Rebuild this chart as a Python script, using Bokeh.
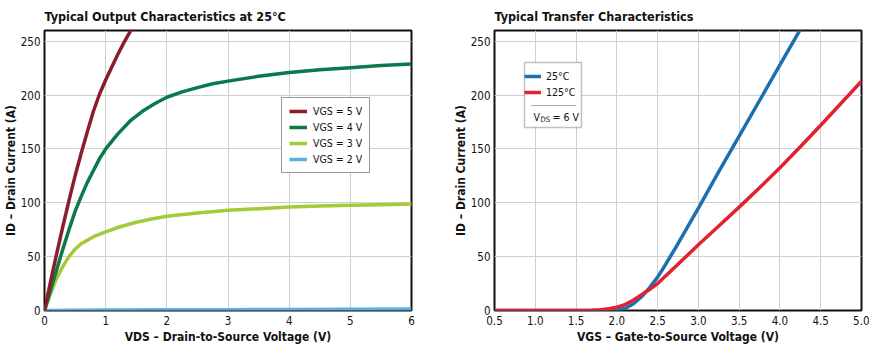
from bokeh.plotting import figure
from bokeh.layouts import row
from bokeh.models import (Legend, LegendItem, Label, BoxAnnotation, FixedTicker,
                          Range1d, PrintfTickFormatter)
from bokeh.embed import file_html
from bokeh.resources import INLINE

FONT = "Liberation Sans Narrow, DejaVu Sans Condensed, sans-serif"

# ---------------- data: output characteristics (ID vs VDS) ----------------
vgs5_x = [0, 0.1, 0.2, 0.3, 0.4, 0.5, 0.6, 0.7, 0.8, 0.9, 1.0, 1.1, 1.2, 1.3, 1.4, 1.5]
vgs5_y = [0, 27, 53, 78, 102, 125, 146, 166, 185, 201, 214, 226, 238, 249, 259, 268]
vgs4_x = [0, 0.1, 0.2, 0.3, 0.4, 0.5, 0.6, 0.7, 0.8, 0.9, 1.0, 1.2, 1.4, 1.6, 1.8, 2.0,
          2.25, 2.5, 2.75, 3.0, 3.5, 4.0, 4.5, 5.0, 5.5, 6.0]
vgs4_y = [0, 19, 38, 57, 75, 92, 106, 119, 130, 141, 150, 164, 176, 185, 192, 198,
          203, 207, 210.5, 213, 217.5, 221, 223.5, 225.5, 227.5, 229]
vgs3_x = [0, 0.1, 0.2, 0.3, 0.4, 0.5, 0.6, 0.8, 1.0, 1.25, 1.5, 1.75, 2.0, 2.5, 3.0,
          3.5, 4.0, 4.5, 5.0, 5.5, 6.0]
vgs3_y = [0, 16, 30, 41, 50, 57, 62, 68.5, 73, 78, 82, 85, 87.5, 90.5, 93,
          94.5, 96, 97, 97.8, 98.3, 98.8]
vgs2_x = [0, 1, 2, 3, 4, 5, 6]
vgs2_y = [0, 0.4, 0.6, 0.8, 1.0, 1.2, 1.4]
out_labels = ["VGS = 5 V", "VGS = 4 V", "VGS = 3 V", "VGS = 2 V"]
out_colors = ["#8B1E2D", "#0B7A4B", "#A3CB38", "#5BB0E3"]
out_xticks = [0, 1, 2, 3, 4, 5, 6]

# ---------------- data: transfer characteristics (ID vs VGS) ----------------
t25_x = [0.5, 1.0, 1.5, 1.8, 1.9, 2.0, 2.1, 2.2, 2.3, 2.4, 2.5, 2.6, 2.75, 3.0, 3.25,
         3.5, 3.75, 4.0, 4.25]
t25_y = [0, 0, 0, 0, 0.1, 0.5, 2, 6, 12.5, 21, 31, 43, 62, 95, 129, 162, 195, 228, 261]
t125_x = [0.5, 1.0, 1.5, 1.7, 1.8, 1.9, 2.0, 2.1, 2.2, 2.3, 2.4, 2.5, 2.75, 3.0, 3.25,
          3.5, 3.75, 4.0, 4.25, 4.5, 4.75, 5.0]
t125_y = [0, 0, 0.1, 0.3, 0.8, 1.6, 3, 5.5, 9.5, 14.5, 19.5, 25, 43, 61, 78.5,
          96, 114, 132.5, 152, 172, 192.5, 213]
tr_labels = ["25°C", "125°C"]
tr_colors = ["#1C6FB0", "#E02232"]
tr_xticks = [0.5, 1.0, 1.5, 2.0, 2.5, 3.0, 3.5, 4.0, 4.5, 5.0]
y_ticks = [0, 50, 100, 150, 200, 250]


def base_fig(title, width, left, right, xr, xticks, xlabel, ylabel):
    p = figure(width=width, height=348, output_backend="svg", toolbar_location=None,
               x_range=Range1d(*xr), y_range=Range1d(0, 260),
               min_border_left=left, min_border_right=right,
               min_border_top=30, min_border_bottom=38)
    p.title.text = title
    p.title.text_font = FONT
    p.title.text_font_style = "bold"
    p.title.text_font_size = "12.5px"
    p.title.text_color = "#111111"
    p.title.offset = 0
    p.title.standoff = 10
    p.title.vertical_align = "top"
    p.outline_line_color = "#111111"
    p.outline_line_width = 2
    p.outline_line_alpha = 1
    for ax in (p.xaxis[0], p.yaxis[0]):
        ax.axis_line_color = None
        ax.major_tick_line_color = None
        ax.minor_tick_line_color = None
        ax.major_tick_out = 0
        ax.major_tick_in = 0
        ax.minor_tick_out = 0
        ax.major_label_text_font = FONT
        ax.major_label_text_font_size = "11.5px"
        ax.major_label_text_color = "#111111"
        ax.major_label_standoff = 5
        ax.axis_label_text_font = FONT
        ax.axis_label_text_font_style = "bold"
        ax.axis_label_text_font_size = "12px"
        ax.axis_label_text_color = "#111111"
        ax.axis_label_standoff = 2
    p.xaxis[0].axis_label = xlabel
    p.yaxis[0].axis_label = ylabel
    p.yaxis[0].axis_label_standoff = 0
    p.yaxis[0].major_label_standoff = 4
    p.xaxis[0].ticker = FixedTicker(ticks=xticks)
    p.yaxis[0].ticker = FixedTicker(ticks=y_ticks)
    p.xgrid.grid_line_color = "#cfcfcf"
    p.ygrid.grid_line_color = "#cfcfcf"
    p.xgrid.grid_line_width = 1
    p.ygrid.grid_line_width = 1
    p.background_fill_color = "white"
    return p


# ---------------- left figure ----------------
p1 = base_fig("Typical Output Characteristics at 25°C", 435, 44, 24, (0, 6), out_xticks,
              "VDS – Drain-to-Source Voltage (V)", "ID – Drain Current (A)")
r2 = p1.line(vgs2_x, vgs2_y, line_color=out_colors[3], line_width=3.5)
r3 = p1.line(vgs3_x, vgs3_y, line_color=out_colors[2], line_width=3.5)
r4 = p1.line(vgs4_x, vgs4_y, line_color=out_colors[1], line_width=3.5)
r5 = p1.line(vgs5_x, vgs5_y, line_color=out_colors[0], line_width=3.5)
leg1 = Legend(items=[LegendItem(label=out_labels[0], renderers=[r5]),
                     LegendItem(label=out_labels[1], renderers=[r4]),
                     LegendItem(label=out_labels[2], renderers=[r3]),
                     LegendItem(label=out_labels[3], renderers=[r2])],
              location=(237, 137), padding=7, margin=0, spacing=4,
              glyph_width=18, glyph_height=12, label_height=12, label_standoff=6,
              label_text_font=FONT, label_text_font_size="10.5px",
              label_text_color="#111111",
              border_line_color="#333333", border_line_width=1.5,
              background_fill_color="white", background_fill_alpha=1)
p1.add_layout(leg1)

# ---------------- right figure ----------------
p2 = base_fig("Typical Transfer Characteristics", 434, 59, 8, (0.5, 5.0), tr_xticks,
              "VGS – Gate-to-Source Voltage (V)", "ID – Drain Current (A)")
p2.xaxis[0].formatter = PrintfTickFormatter(format="%.1f")
b25 = p2.line(t25_x, t25_y, line_color=tr_colors[0], line_width=3.5)
b125 = p2.line(t125_x, t125_y, line_color=tr_colors[1], line_width=3.5)
box = BoxAnnotation(left=0.868, right=1.566, bottom=170, top=230.3,
                    fill_color="white", fill_alpha=1,
                    line_color="#333333", line_width=1.5)
p2.add_layout(box)
sep = BoxAnnotation(left=0.95, right=1.5, bottom=190.3, top=190.3,
                    fill_alpha=0, line_color="#555555", line_width=1)
p2.add_layout(sep)
leg2 = Legend(items=[LegendItem(label=tr_labels[0], renderers=[b25]),
                     LegendItem(label=tr_labels[1], renderers=[b125])],
              location=(30, 212), padding=8, margin=0, spacing=4,
              glyph_width=17, glyph_height=12, label_height=12, label_standoff=5,
              label_text_font=FONT, label_text_font_size="10.5px",
              label_text_color="#111111",
              border_line_color=None, background_fill_alpha=0)
p2.add_layout(leg2)
for txt, xo, yo, size in [("V", 39, 194, "10.5px"), ("DS", 46, 191, "7.5px"),
                          ("= 6 V", 58, 194, "10.5px")]:
    p2.add_layout(Label(x=0.5, y=0, x_offset=xo, y_offset=yo, text=txt,
                        text_font=FONT, text_font_size=size, text_color="#111111",
                        text_align="left", text_baseline="middle"))

layout = row(p1, p2)
open("out.html", "w").write(file_html(layout, INLINE))
